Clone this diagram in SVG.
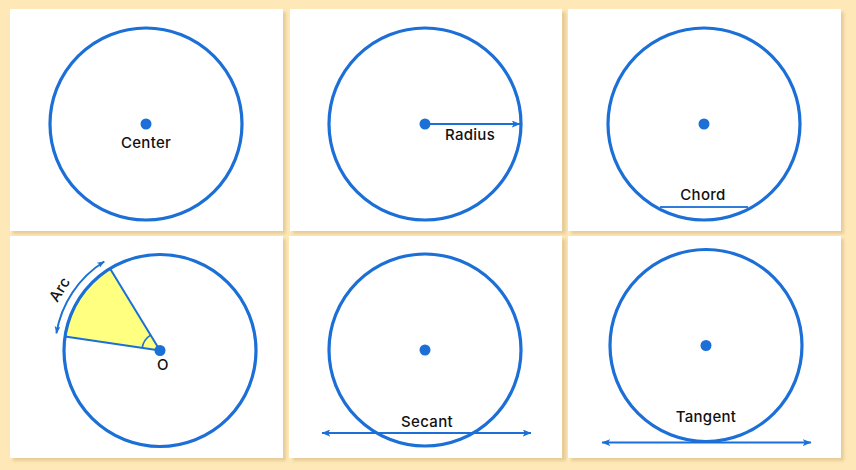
<svg xmlns="http://www.w3.org/2000/svg" width="856" height="470" viewBox="0 0 856 470">
  <defs>
    <filter id="sh" x="-5%" y="-5%" width="115%" height="115%">
      <feGaussianBlur stdDeviation="1.5"/>
    </filter>
    <marker id="ah" viewBox="0 0 10 8" refX="9.5" refY="4" markerWidth="9" markerHeight="7" markerUnits="userSpaceOnUse" orient="auto-start-reverse">
      <path d="M0,0 L10,4 L0,8 L2.5,4 Z" fill="#1B6FD6"/>
    </marker>
    <marker id="ahs" viewBox="0 0 10 8" refX="9.5" refY="4" markerWidth="8" markerHeight="6" markerUnits="userSpaceOnUse" orient="auto-start-reverse">
      <path d="M0,0 L10,4 L0,8 L2.5,4 Z" fill="#1B6FD6"/>
    </marker>
  </defs>
  <style>
    .bg { fill: #FEE8B7; }
    .shadow { fill: #E6CC97; filter: url(#sh); }
    .panel { fill: #FFFFFF; }
    .circ { fill: none; stroke: #1B6FD6; stroke-width: 3.2; }
    .dot { fill: #1B6FD6; }
    .ln { stroke: #1B6FD6; stroke-width: 2; fill: none; }
    .lbl { font-family: Inter, "Noto Sans", "Liberation Sans", sans-serif; font-size: 15px; font-weight: 500; fill: #111111; text-anchor: middle; letter-spacing: 0.3px; }
  </style>
  <rect class="bg" x="0" y="0" width="856" height="470"/>

  <!-- panel backgrounds -->
  <g id="panels">
    <rect class="shadow" x="13" y="12" width="273" height="222"/>
    <rect class="shadow" x="293" y="12" width="273" height="222"/>
    <rect class="shadow" x="571" y="12" width="273" height="222"/>
    <rect class="shadow" x="13" y="239" width="273" height="222"/>
    <rect class="shadow" x="293" y="239" width="273" height="222"/>
    <rect class="shadow" x="571" y="239" width="273" height="222"/>
    <rect class="panel" x="10" y="9" width="273" height="222"/>
    <rect class="panel" x="290" y="9" width="272" height="222"/>
    <rect class="panel" x="568" y="9" width="273" height="222"/>
    <rect class="panel" x="10" y="236" width="273" height="222"/>
    <rect class="panel" x="289" y="236" width="273" height="222"/>
    <rect class="panel" x="568" y="236" width="273" height="222"/>
  </g>

  <!-- Center -->
  <g id="center">
    <circle class="circ" cx="146" cy="124" r="96"/>
    <circle class="dot" cx="146" cy="124" r="5.5"/>
    <text class="lbl" x="146" y="148">Center</text>
  </g>

  <!-- Radius -->
  <g id="radius">
    <circle class="circ" cx="425" cy="124" r="96"/>
    <circle class="dot" cx="425" cy="124" r="5.5"/>
    <text class="lbl" x="470" y="140">Radius</text>
  </g>

  <!-- Chord -->
  <g id="chord">
    <circle class="circ" cx="704" cy="124" r="96"/>
    <circle class="dot" cx="704" cy="124" r="5.5"/>
    <text class="lbl" x="703" y="200">Chord</text>
  </g>

  <!-- Arc -->
  <g id="arc">
    <path d="M160,350.5 L110,268.5 A96,96 0 0 0 65,336.4 Z" fill="#FFFF80" stroke="#1B6FD6" stroke-width="2" stroke-linejoin="round"/>
    <path d="M150.6,335.1 A18,18 0 0 0 142.2,347.9" fill="none" stroke="#1B6FD6" stroke-width="1.6"/>
    <circle class="circ" cx="160" cy="350.5" r="96"/>
    <circle class="dot" cx="160" cy="350.5" r="5.5"/>
    <text class="lbl" x="163" y="370">O</text>
    <text class="lbl" transform="translate(64,292) rotate(-58)" x="0" y="0">Arc</text>
  </g>

  <!-- Secant -->
  <g id="secant">
    <circle class="circ" cx="425" cy="350" r="96"/>
    <circle class="dot" cx="425" cy="350" r="5.5"/>
    <text class="lbl" x="427" y="427">Secant</text>
  </g>

  <!-- Tangent -->
  <g id="tangent">
    <circle class="circ" cx="706" cy="345.5" r="96"/>
    <circle class="dot" cx="706" cy="345.5" r="5.5"/>
    <text class="lbl" x="706" y="422">Tangent</text>
  </g>

  <!-- connectors / lines -->
  <g id="connectors">
    <line class="ln" x1="425" y1="124" x2="520" y2="124" marker-end="url(#ah)"/>
    <line x1="660" y1="207" x2="748" y2="207" stroke="#2F7DDB" stroke-width="2"/>
    <path class="ln" d="M56.4,333.3 A105,105 0 0 1 104.3,261.5" stroke-width="1.6" marker-start="url(#ahs)" marker-end="url(#ahs)"/>
    <line class="ln" x1="322" y1="433" x2="531" y2="433" marker-start="url(#ah)" marker-end="url(#ah)"/>
    <line class="ln" x1="602" y1="442.5" x2="811" y2="442.5" stroke-width="2.4" marker-start="url(#ah)" marker-end="url(#ah)"/>
  </g>
</svg>
